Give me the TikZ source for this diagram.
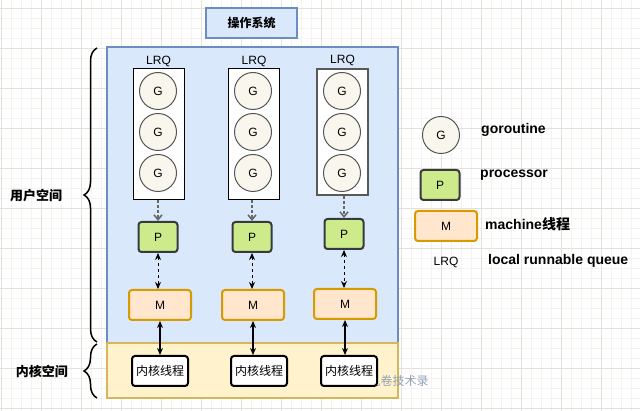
\documentclass[tikz,border=0pt]{standalone}
\usepackage{fontspec}
\setmainfont{Liberation Sans}
\newfontfamily\cjk{Noto Sans CJK SC}
\usetikzlibrary{arrows.meta,decorations.pathreplacing,positioning}
\definecolor{osfill}{HTML}{DAE8FC}
\definecolor{osdraw}{HTML}{6C8EBF}
\definecolor{kernfill}{HTML}{FFF2CC}
\definecolor{kerndraw}{HTML}{D6B656}
\definecolor{gfill}{HTML}{F9F7ED}
\definecolor{gdraw}{HTML}{555555}
\definecolor{pfill}{HTML}{CDEB8B}
\definecolor{pdraw}{HTML}{36393D}
\definecolor{mfill}{HTML}{FFE6CC}
\definecolor{mdraw}{HTML}{D79B00}
\definecolor{gridmajor}{HTML}{E4E1DA}
\definecolor{gridminor}{HTML}{F5F3EF}
\definecolor{wmark}{HTML}{7F93AD}

\begin{document}
\begin{tikzpicture}[x=1pt,y=-1pt,font=\fontsize{12}{14}\selectfont,
 lbl/.style={inner sep=1pt},
 legend/.style={font=\fontsize{14}{16}\selectfont\bfseries,anchor=west,inner sep=0pt},
 region/.style={draw=osdraw,fill=osfill,line width=1.5pt,minimum width=291pt,inner sep=0pt},
 kregion/.style={region,draw=kerndraw,fill=kernfill,line width=2pt},
 queue/.style={fill=white,line width=1pt,minimum width=51pt,inner sep=0pt},
 gor/.style={circle,draw=gdraw,fill=gfill,line width=1pt,minimum size=37pt,inner sep=0pt},
 proc/.style={draw=pdraw,fill=pfill,line width=2pt,rounded corners=3pt,
              minimum width=39pt,minimum height=30pt,inner sep=0pt},
 mach/.style={proc,draw=mdraw,fill=mfill,minimum width=62pt},
 kthread/.style={proc,draw=black,fill=white,minimum width=56pt},
 brace/.style={decorate,decoration={brace,amplitude=13pt},line width=1.5pt},
 fetch/.style={-{Straight Barb[length=5pt,width=8pt]},draw=black!60,line width=1.5pt,dash pattern=on 3pt off 2pt},
 bind/.style={{Stealth[length=7pt,width=6pt]}-{Stealth[length=7pt,width=6pt]},line width=1pt,dash pattern=on 3pt off 3pt},
 sys/.style={{Stealth[length=7pt,width=6pt]}-{Stealth[length=7pt,width=6pt]},line width=1.2pt}]
 \useasboundingbox (0,0) rectangle (640,411);
 % background grid
 \foreach \gx in {1,11,...,631} \draw[gridminor] (\gx,0) -- (\gx,411);
 \foreach \gy in {8,18,...,408} \draw[gridminor] (0,\gy) -- (640,\gy);
 \foreach \gx in {1,41,...,601} \draw[gridmajor] (\gx,0) -- (\gx,411);
 \foreach \gy in {8,48,...,408} \draw[gridmajor] (0,\gy) -- (640,\gy);
 % regions
 \node[region,minimum width=91pt,minimum height=30pt] (os) at (251.5,23) {\cjk\bfseries 操作系统};
 \node[region,minimum height=296pt] (user) at (252.5,195) {};
 \node[kregion,minimum height=55pt] (kern) at (252.5,370.5) {};
 \draw[brace] (97,342) -- (97,48);
 \draw[brace] (97,398) -- (97,344);
 \node[font=\fontsize{13}{15}\selectfont\cjk\bfseries] (ulabel) at (36,196) {用户空间};
 \node[font=\fontsize{13}{15}\selectfont\cjk\bfseries] (klabel) at (42,371) {内核空间};
 \node[text=wmark,opacity=.85] (wm) at (398.5,381) {\cjk 九卷技术录};
 % one column per P
 \foreach \c/\qc/\qw/\qx/\qy/\qh/\gx/\px/\py/\mx/\my/\kx in
   {1/black/1/158.5/134.5/131/158/158/237/160/305/160,
    2/black/1/254/134.5/131/253/252/237/253/305/259,
    3/black!65/1.6/342.5/132/126/342/344/234/345/304/349} {
   \node[queue,draw=\qc,line width=\qw pt,minimum height=\qh pt] (Q\c) at (\qx,\qy) {};
   \node[lbl,above=1pt of Q\c] (LRQ\c) {LRQ};
   \foreach \g/\gy in {1/91,2/132,3/173}
     \node[gor] (G\c\g) at (\gx,\gy) {G};
   \node[proc] (P\c) at (\px,\py) {P};
   \node[mach] (M\c) at (\mx,\my) {M};
   \node[kthread] (K\c) at (\kx,371) {\cjk 内核线程};
   \draw[fetch] (P\c.north |- Q\c.south) -- (P\c.north);
   \draw[bind] (P\c.south) -- (P\c.south |- M\c.north);
   \draw[sys] (M\c.south) -- (M\c.south |- K\c.north);
 }
 % legend
 \node[gor] (lg) at (441,135) {G};
 \node[legend] (lgt) at (481,130) {goroutine};
 \node[proc] (lp) at (440,185) {P};
 \node[legend] (lpt) at (480,175) {processor};
 \node[mach] (lm) at (446,226) {M};
 \node[legend] (lmt) at (485,224) {machine{\cjk\bfseries 线程}};
 \node[lbl] (lq) at (446,262) {LRQ};
 \node[legend] (lqt) at (488,261) {local runnable queue};
\end{tikzpicture}
\end{document}
